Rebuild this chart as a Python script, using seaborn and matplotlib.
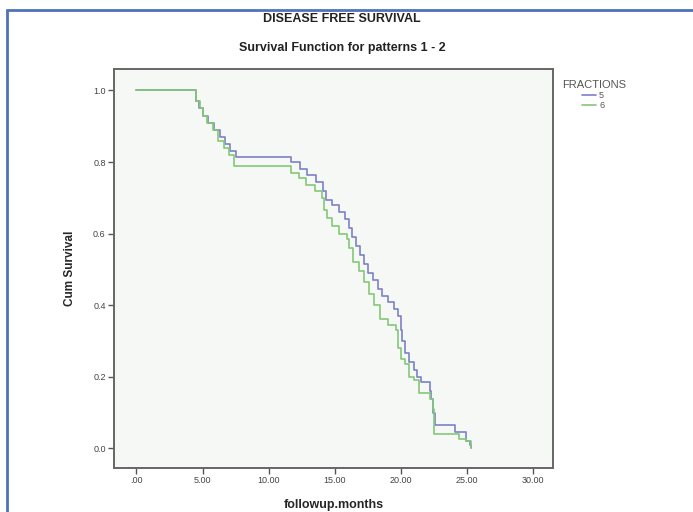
import matplotlib
matplotlib.use("Agg")
import matplotlib.pyplot as plt
import seaborn as sns
import numpy as np
import pandas as pd
from matplotlib.lines import Line2D

# Kaplan-Meier steps (months, cum survival after the step)
months_5 = [0.0, 4.5, 4.7, 5.0, 5.4, 5.9, 6.3, 6.7, 7.1, 7.5, 11.7, 12.4, 12.9, 13.6,
            14.1, 14.3, 14.8, 15.3, 15.8, 16.1, 16.3, 16.6, 16.9, 17.2, 17.5, 17.9,
            18.3, 18.6, 19.0, 19.5, 19.8, 20.0, 20.1, 20.3, 20.6, 21.0, 21.2, 21.5,
            22.2, 22.3, 22.4, 22.6, 24.1, 24.9, 25.2, 25.3]
surv_5 = [1.0, 0.97, 0.95, 0.93, 0.91, 0.89, 0.87, 0.85, 0.83, 0.814, 0.80, 0.78, 0.765,
          0.745, 0.72, 0.695, 0.68, 0.66, 0.64, 0.615, 0.59, 0.565, 0.54, 0.515, 0.49,
          0.47, 0.445, 0.425, 0.41, 0.39, 0.37, 0.33, 0.30, 0.265, 0.24, 0.22, 0.20,
          0.185, 0.16, 0.137, 0.10, 0.065, 0.045, 0.02, 0.01, 0.0]

months_6 = [0.0, 4.5, 4.8, 5.0, 5.3, 5.8, 6.2, 6.6, 7.0, 7.4, 11.7, 12.3, 12.8, 13.5,
            14.0, 14.2, 14.4, 14.8, 15.3, 15.9, 16.1, 16.4, 16.8, 17.2, 17.6, 18.0,
            18.4, 19.0, 19.6, 19.8, 20.0, 20.3, 20.6, 21.0, 21.4, 22.2, 22.4, 22.5,
            24.4, 24.9, 25.3]
surv_6 = [1.0, 0.97, 0.95, 0.93, 0.91, 0.89, 0.86, 0.84, 0.82, 0.79, 0.77, 0.755, 0.735,
          0.72, 0.70, 0.665, 0.645, 0.62, 0.60, 0.584, 0.56, 0.52, 0.495, 0.465, 0.43,
          0.40, 0.36, 0.345, 0.33, 0.28, 0.25, 0.235, 0.20, 0.19, 0.155, 0.137, 0.11,
          0.04, 0.025, 0.02, 0.0]

fractions = ["5", "6"]
x_ticks = [0, 5, 10, 15, 20, 25, 30]
x_ticklabels = [".00", "5.00", "10.00", "15.00", "20.00", "25.00", "30.00"]
y_ticks = [0.0, 0.2, 0.4, 0.6, 0.8, 1.0]

df = pd.concat([
    pd.DataFrame({"followup.months": months_5, "Cum Survival": surv_5, "FRACTIONS": "5"}),
    pd.DataFrame({"followup.months": months_6, "Cum Survival": surv_6, "FRACTIONS": "6"}),
], ignore_index=True)

sns.set_style("white")
plt.rcParams["font.family"] = ["Liberation Sans", "DejaVu Sans"]

fig = plt.figure(figsize=(6.93, 5.12), dpi=100)
ax = fig.add_axes([114 / 693, 1 - 468 / 512, 439 / 693, 399 / 512])
ax.set_facecolor("#f6f8f6")

palette = {"5": "#7c80c8", "6": "#84c878"}
sns.lineplot(data=df, x="followup.months", y="Cum Survival", hue="FRACTIONS",
             hue_order=fractions, palette=palette, estimator=None, sort=False,
             drawstyle="steps-post", linewidth=1.2, ax=ax, legend=False)

ax.set_xlim(-1.7, 31.5)
ax.set_ylim(-0.055, 1.06)
ax.set_xticks(x_ticks)
ax.set_xticklabels(x_ticklabels)
ax.set_yticks(y_ticks)
ax.set_yticklabels([f"{v:.1f}" for v in y_ticks])
ax.tick_params(axis="both", direction="out", length=4, width=1, color="#555555",
               labelsize=6.5, labelcolor="#444444", bottom=True, left=True, pad=2)
for side in ["top", "right", "left", "bottom"]:
    ax.spines[side].set_color("#666666")
    ax.spines[side].set_linewidth(1.4)

ax.set_xlabel("followup.months", fontsize=9, fontweight="bold", labelpad=10)
ax.set_ylabel("Cum Survival", fontsize=8.5, fontweight="bold", labelpad=12)

fig.text(342 / 693, 1 - 19 / 512, "DISEASE FREE SURVIVAL", ha="center", va="center",
         fontsize=9, fontweight="bold", color="#222222")
fig.text(342 / 693, 1 - 48 / 512, "Survival Function for patterns 1 - 2", ha="center",
         va="center", fontsize=9, fontweight="bold", color="#222222")

# legend on the right, SPSS style
fig.text(562 / 693, 1 - 85 / 512, "FRACTIONS", ha="left", va="center",
         fontsize=8, color="#555555")
handles = [Line2D([0], [0], color=palette[f], lw=1.2) for f in fractions]
leg = fig.legend(handles, fractions, loc="upper left",
                 bbox_to_anchor=(582 / 693, 1 - 91 / 512), frameon=False,
                 fontsize=6.5, handlelength=1.6, handletextpad=0.3,
                 labelspacing=0.1, borderpad=0.0, borderaxespad=0.0)
for t in leg.get_texts():
    t.set_color("#555555")

# blue frame round the figure
fig.add_artist(Line2D([7 / 693, 1.0], [1 - 10 / 512, 1 - 10 / 512],
                      transform=fig.transFigure, color="#4f72b8", lw=2))
fig.add_artist(Line2D([7 / 693, 7 / 693], [0.0, 1 - 10 / 512],
                      transform=fig.transFigure, color="#4f72b8", lw=2))

fig.savefig("out.png", dpi=100)
